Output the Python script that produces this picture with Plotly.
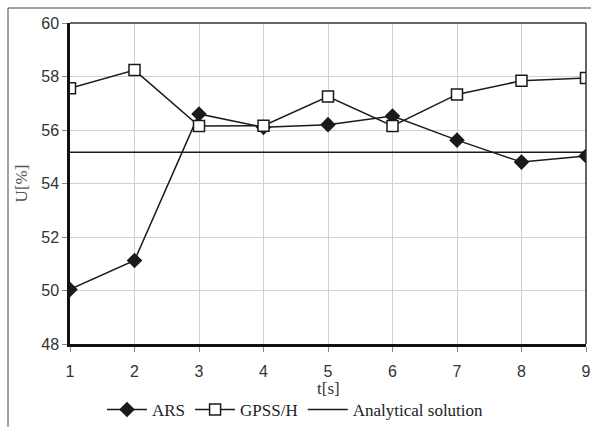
import plotly.graph_objects as go

t = [1, 2, 3, 4, 5, 6, 7, 8, 9]
ars = [50.04, 51.12, 56.6, 56.1, 56.2, 56.52, 55.62, 54.8, 55.03]
gpss = [57.56, 58.24, 56.15, 56.16, 57.25, 56.15, 57.33, 57.84, 57.94]
analytical = [55.17] * len(t)

W, H = 591, 427
ml, mr, mt, mb = 70, 5, 23, 83
pw, ph = W - ml - mr, H - mt - mb

fig = go.Figure()
fig.add_trace(go.Scatter(x=t, y=ars, name="ARS", mode="lines+markers",
                         line=dict(color="#1a1a1a", width=1.5),
                         marker=dict(symbol="diamond", size=12, color="#1a1a1a")))
fig.add_trace(go.Scatter(x=t, y=gpss, name="GPSS/H", mode="lines+markers",
                         line=dict(color="#1a1a1a", width=1.5),
                         marker=dict(symbol="square", size=11, color="white",
                                     line=dict(color="#1a1a1a", width=1.5))))
fig.add_trace(go.Scatter(x=t, y=analytical, name="Analytical solution", mode="lines",
                         line=dict(color="#1a1a1a", width=1.5)))

def px_to_paper_x(px):
    return (px - ml) / pw

def px_to_paper_y(py):
    return (H - mb - py) / ph

frame = dict(color="#444", width=1)
fig.add_shape(type="line", xref="paper", yref="paper",
              x0=px_to_paper_x(8), x1=px_to_paper_x(8),
              y0=px_to_paper_y(8), y1=px_to_paper_y(H + 2), line=frame)
fig.add_shape(type="line", xref="paper", yref="paper",
              x0=px_to_paper_x(8), x1=px_to_paper_x(W + 2),
              y0=px_to_paper_y(8), y1=px_to_paper_y(8), line=frame)
# top and right plot borders
fig.add_shape(type="line", xref="paper", yref="paper", x0=0, x1=1, y0=1, y1=1,
              line=dict(color="#333", width=1.5))
fig.add_shape(type="line", xref="paper", yref="paper", x0=1, x1=1, y0=0, y1=1,
              line=dict(color="#333", width=1.5))

fig.add_annotation(text="t[s]", xref="paper", yref="paper",
                   x=0.5, y=px_to_paper_y(389), xanchor="center", yanchor="middle",
                   showarrow=False,
                   font=dict(family="Liberation Serif", size=17, color="#333"))

fig.update_layout(
    width=W, height=H,
    margin=dict(l=ml, r=mr, t=mt, b=mb, autoexpand=False),
    paper_bgcolor="white", plot_bgcolor="white",
    showlegend=True,
    legend=dict(orientation="h", xref="container", yref="container",
                x=0.5, xanchor="center", y=1 - 410 / H, yanchor="middle",
                font=dict(family="Liberation Serif", size=17, color="#222"),
                itemwidth=40, tracegroupgap=0),
    xaxis=dict(range=[1, 9], dtick=1, showgrid=True, gridcolor="#d0d0d0", gridwidth=1,
               showline=True, linecolor="#111", linewidth=2.5,
               ticks="outside", ticklen=5, tickcolor="#888",
               ticklabelstandoff=6, automargin=False,
               tickfont=dict(family="Liberation Sans", size=16, color="#333"),
               zeroline=False),
    yaxis=dict(range=[48, 60], dtick=2, showgrid=True, gridcolor="#d0d0d0", gridwidth=1,
               showline=True, linecolor="#111", linewidth=2.5,
               ticks="outside", ticklen=5, tickcolor="#888",
               tickfont=dict(family="Liberation Sans", size=16, color="#333"),
               zeroline=False, automargin=False,
               title=dict(text="U[%]", standoff=10,
                          font=dict(family="Liberation Serif", size=17, color="#555"))),
)

fig.write_html("out.html")
